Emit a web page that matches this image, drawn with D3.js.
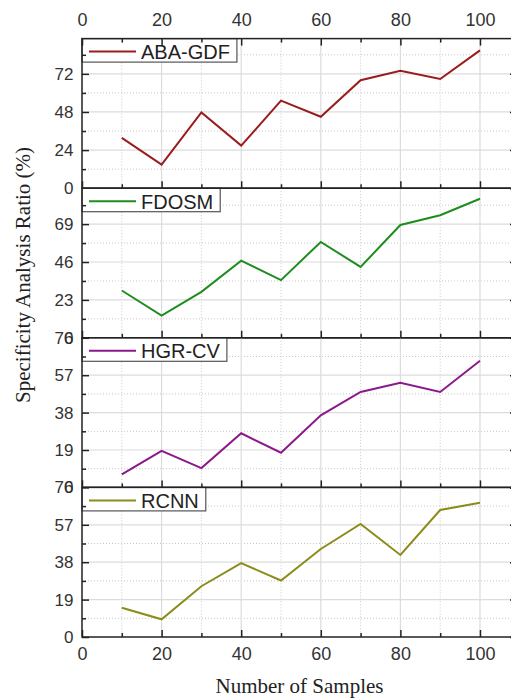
<!DOCTYPE html>
<html>
<head>
<meta charset="utf-8">
<script src="https://cdn.jsdelivr.net/npm/d3@7"></script>
<style>
  html, body { margin: 0; padding: 0; background: #fff; }
  svg { display: block; }
</style>
</head>
<body>
<svg id="chart" width="511" height="698"></svg>
<script>
// ---- data ----
const samples = [10, 20, 30, 40, 50, 60, 70, 80, 90, 100];
const seriesNames = ["ABA-GDF", "FDOSM", "HGR-CV", "RCNN"];
const abaGdf = [31.7, 14.8, 47.7, 26.8, 55.1, 45.0, 68.0, 73.9, 68.8, 86.8];
const fdosm  = [28.7, 13.5, 27.9, 46.8, 35.0, 58.2, 43.0, 68.5, 74.4, 84.4];
const hgrCv  = [6.6, 18.6, 9.8, 27.5, 17.6, 36.6, 48.5, 53.2, 48.5, 64.3];
const rcnn   = [14.9, 9.0, 25.8, 37.5, 28.7, 44.7, 57.4, 41.7, 64.5, 68.2];
const xTicks = [0, 20, 40, 60, 80, 100];
const xMinorTicks = [10, 30, 50, 70, 90];
const yTicks1 = [0, 24, 48, 72];
const yTicks2 = [0, 23, 46, 69];
const yTicks3 = [0, 19, 38, 57, 76];
const yTicks4 = [0, 19, 38, 57, 76];
const yMax = [94.2, 90.8, 76, 76];
const xTitle = "Number of Samples";
const yTitle = "Specificity Analysis Ratio (%)";

// ---- layout / style ----
const colors = ["#9a1c1c", "#1f8c1f", "#8a1a8a", "#8c8c1a"];
const values = [abaGdf, fdosm, hgrCv, rcnn];
const yTickSets = [yTicks1, yTicks2, yTicks3, yTicks4];
const left = 82, right = 517, top0 = 38.6, panelH = 149.6;
const sansFont = "'Liberation Sans', Arial, sans-serif";
const serifFont = "'Liberation Serif', 'Times New Roman', serif";
const axisColor = "#222";

const svg = d3.select("#chart");
const x = d3.scaleLinear().domain([0, 109.3]).range([left, right]);

function styleAxis(g, fontSize) {
  g.select(".domain").remove();
  g.selectAll(".tick line").attr("stroke", axisColor).attr("stroke-width", 1.5);
  g.selectAll(".tick text").attr("fill", "#333").style("font-family", sansFont).style("font-size", fontSize + "px");
}

seriesNames.forEach((name, i) => {
  const top = top0 + i * panelH;
  const bottom = top + panelH;
  const ticks = yTickSets[i];
  const step = ticks[1] - ticks[0];
  const minor = d3.range(ticks.length).map(k => ticks[k] + step / 2).filter(v => v < yMax[i]);
  const y = d3.scaleLinear().domain([0, yMax[i]]).range([bottom, top]);
  const g = svg.append("g");

  // minor grid (dotted)
  g.append("g").selectAll("line.vm").data(xMinorTicks).join("line")
    .attr("x1", d => x(d)).attr("x2", d => x(d)).attr("y1", top).attr("y2", bottom)
    .attr("stroke", "#c8c8c8").attr("stroke-width", 1).attr("stroke-dasharray", "1,2");
  g.append("g").selectAll("line.hm").data(minor).join("line")
    .attr("x1", left).attr("x2", right).attr("y1", d => y(d)).attr("y2", d => y(d))
    .attr("stroke", "#c8c8c8").attr("stroke-width", 1).attr("stroke-dasharray", "1,2");
  // major grid
  g.append("g").selectAll("line.vM").data(xTicks.filter(d => d > 0)).join("line")
    .attr("x1", d => x(d)).attr("x2", d => x(d)).attr("y1", top).attr("y2", bottom)
    .attr("stroke", "#dcdcdc").attr("stroke-width", 1.2);
  g.append("g").selectAll("line.hM").data(ticks.filter(d => d > 0 && d < yMax[i])).join("line")
    .attr("x1", left).attr("x2", right).attr("y1", d => y(d)).attr("y2", d => y(d))
    .attr("stroke", "#dcdcdc").attr("stroke-width", 1.2);

  // line
  const line = d3.line().x((d, k) => x(samples[k])).y(d => y(d));
  g.append("path").datum(values[i]).attr("d", line)
    .attr("fill", "none").attr("stroke", colors[i]).attr("stroke-width", 2)
    .attr("stroke-linejoin", "miter");

  // legend
  const lg = g.append("g");
  const box = lg.append("rect").attr("x", left).attr("y", top)
    .attr("height", 23.5).attr("fill", "#fff").attr("stroke", "#555").attr("stroke-width", 1.2);
  lg.append("line").attr("x1", 89).attr("x2", 136).attr("y1", top + 13).attr("y2", top + 13)
    .attr("stroke", colors[i]).attr("stroke-width", 2);
  const t = lg.append("text").attr("x", 141).attr("y", top + 20.5)
    .style("font-family", sansFont).style("font-size", "20px").attr("fill", "#222").text(name);
  const tw = t.node().getComputedTextLength();
  box.attr("width", 141 + tw + 7 - left);

  // left axis (major, inward)
  g.append("g").attr("transform", `translate(${left},0)`)
    .call(d3.axisLeft(y).tickValues(ticks).tickSize(-7).tickPadding(8.5))
    .call(a => styleAxis(a, 17));
  g.append("g").attr("transform", `translate(${left},0)`)
    .call(d3.axisLeft(y).tickValues(minor).tickSize(-4).tickFormat(""))
    .call(a => styleAxis(a, 17));
  // right axis ticks (inward)
  g.append("g").attr("transform", `translate(${right},0)`)
    .call(d3.axisRight(y).tickValues(ticks).tickSize(-7).tickFormat(""))
    .call(a => styleAxis(a, 17));

  // bottom axis ticks (inward, pointing up)
  const isLast = i === seriesNames.length - 1;
  g.append("g").attr("transform", `translate(0,${bottom})`)
    .call(d3.axisBottom(x).tickValues(xTicks).tickSize(-7).tickPadding(10.7)
      .tickFormat(isLast ? d3.format("d") : ""))
    .call(a => styleAxis(a, 18));
  g.append("g").attr("transform", `translate(0,${bottom})`)
    .call(d3.axisBottom(x).tickValues(xMinorTicks).tickSize(-4).tickFormat(""))
    .call(a => styleAxis(a, 18));

  if (i === 0) {
    g.append("g").attr("transform", `translate(0,${top})`)
      .call(d3.axisTop(x).tickValues(xTicks).tickSize(-7).tickPadding(12.6))
      .call(a => styleAxis(a, 18));
    g.append("g").attr("transform", `translate(0,${top})`)
      .call(d3.axisTop(x).tickValues(xMinorTicks).tickSize(-4).tickFormat(""))
      .call(a => styleAxis(a, 18));
  }

  // frame
  g.append("rect").attr("x", left).attr("y", top).attr("width", right - left).attr("height", panelH)
    .attr("fill", "none").attr("stroke", axisColor).attr("stroke-width", 1.5);
});

// axis titles
svg.append("text").attr("x", (left + right) / 2).attr("y", 693)
  .attr("text-anchor", "middle").style("font-family", serifFont).style("font-size", "21px")
  .attr("fill", "#222").text(xTitle);
svg.append("text").attr("transform", "translate(30,275) rotate(-90)")
  .attr("text-anchor", "middle").style("font-family", serifFont).style("font-size", "21px")
  .attr("fill", "#222").text(yTitle);
</script>
</body>
</html>
